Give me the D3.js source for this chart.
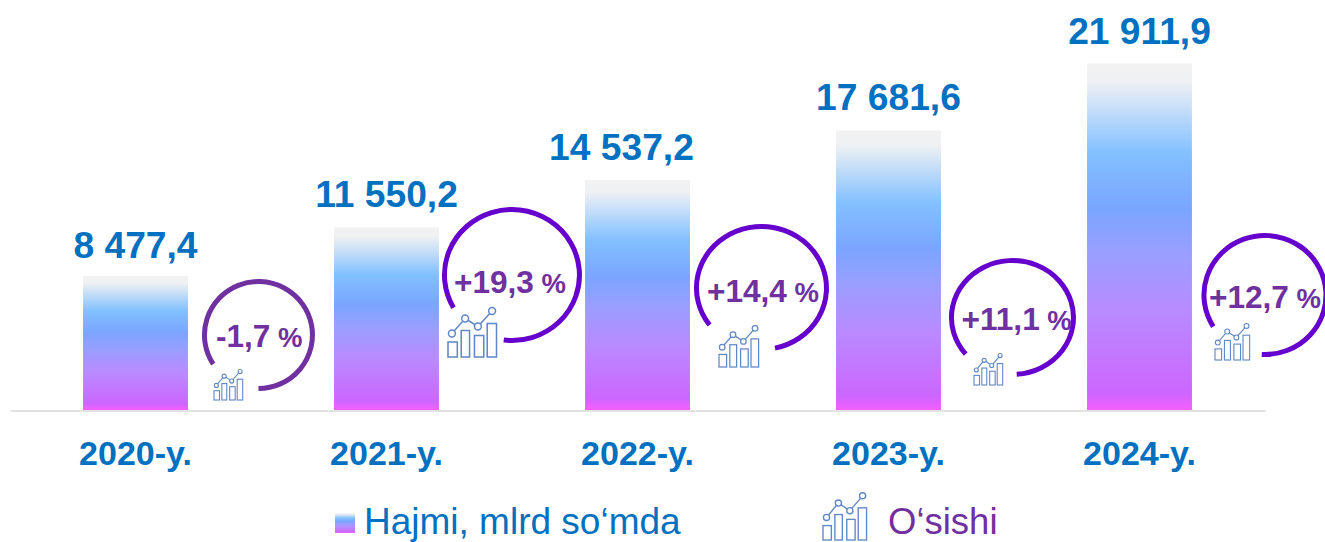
<!DOCTYPE html>
<html>
<head>
<meta charset="utf-8">
<script src="https://cdnjs.cloudflare.com/ajax/libs/d3/7.8.5/d3.min.js"></script>
<style>
  html, body { margin: 0; padding: 0; background: #fff; overflow: hidden; }
  svg { display: block; font-family: "Liberation Sans", Arial, sans-serif; }
</style>
</head>
<body>
<svg id="chart" width="1325" height="542"></svg>
<script>
// values
const years = ["2020-y.", "2021-y.", "2022-y.", "2023-y.", "2024-y."];
const volume = [8477.4, 11550.2, 14537.2, 17681.6, 21911.9];
const growth = [-1.7, 19.3, 14.4, 11.1, 12.7];
const legendLabels = ["Hajmi, mlrd so‘mda", "O‘sishi"];

const blue = "#0070c0";
const purple = "#7030a0";
const iconBlue = "#6088c6";

const svg = d3.select("#chart");
const baseline = 410;

const x = d3.scaleBand().domain(years).range([10, 1265]).paddingInner(0.582).paddingOuter(0.291);
const y = d3.scaleLinear().domain([0, 21911.9]).range([baseline, 63.5]);

const uz = d3.formatLocale({ decimal: ",", thousands: " ", grouping: [3], currency: ["", ""], minus: "-" });
const fmtValue = uz.format(",.1f");
const fmtGrowth = uz.format("+.1f");

/* bar gradient */
const grad = svg.append("defs").append("linearGradient")
  .attr("id", "barFill")
  .attr("x1", 0).attr("y1", 0).attr("x2", 0).attr("y2", 1);
[[0, "#f2f2f2"], [0.05, "#f0f1f3"], [0.26, "#82c0ff"], [0.42, "#7aa5ff"], [0.55, "#9a9eff"],
 [0.72, "#b98aff"], [0.95, "#cc66ff"], [1, "#f55fff"]].forEach(function (s) {
  grad.append("stop").attr("offset", s[0]).attr("stop-color", s[1]);
});

/* bars */
svg.append("g").selectAll("rect")
  .data(volume)
  .join("rect")
  .attr("x", function (d, i) { return x(years[i]); })
  .attr("y", function (d) { return y(d); })
  .attr("width", x.bandwidth())
  .attr("height", function (d) { return baseline - y(d); })
  .attr("fill", "url(#barFill)");

/* value labels, nudged the way they sit in the picture */
const labelNudge = [[0, -18], [0, -20], [-16, -20], [0, -20], [0, -20]];
svg.append("g").selectAll("text")
  .data(volume)
  .join("text")
  .attr("x", function (d, i) { return x(years[i]) + x.bandwidth() / 2 + labelNudge[i][0]; })
  .attr("y", function (d, i) { return y(d) + labelNudge[i][1]; })
  .attr("text-anchor", "middle")
  .attr("font-size", 37.2)
  .attr("font-weight", "bold")
  .attr("fill", blue)
  .text(function (d) { return fmtValue(d); });

/* x axis */
const xAxis = d3.axisBottom(x).tickSize(0);
const axisG = svg.append("g")
  .attr("transform", "translate(0," + (baseline + 0.5) + ")")
  .call(xAxis);
axisG.select(".domain").attr("stroke", "#d9d9d9").attr("stroke-width", 1.5);
axisG.selectAll("text")
  .attr("y", 54)
  .attr("dy", 0)
  .attr("font-family", "Liberation Sans")
  .attr("font-size", 34)
  .attr("font-weight", "bold")
  .attr("fill", blue);

/* small chart glyph, drawn in a 100x100 box */
function drawIcon(parent, left, top, w, h) {
  const sx = d3.scaleLinear().domain([0, 100]).range([left, left + w]);
  const sy = d3.scaleLinear().domain([0, 100]).range([top, top + h]);
  const sw = Math.max(1.1, w / 32);
  const g = parent.append("g").attr("fill", "none").attr("stroke", iconBlue).attr("stroke-width", sw);
  [[0, 19, 70], [27, 44, 47], [54, 73, 57], [80, 99, 33]].forEach(function (b) {
    g.append("rect")
      .attr("x", sx(b[0])).attr("y", sy(b[2]))
      .attr("width", sx(b[1]) - sx(b[0])).attr("height", sy(100) - sy(b[2]));
  });
  const pts = [[8, 53], [35, 23], [61, 39], [90, 8]];
  g.append("path")
    .attr("d", d3.line().x(function (p) { return sx(p[0]); }).y(function (p) { return sy(p[1]); })(pts));
  g.selectAll("circle")
    .data(pts)
    .join("circle")
    .attr("cx", function (p) { return sx(p[0]); })
    .attr("cy", function (p) { return sy(p[1]); })
    .attr("r", w * 0.07)
    .attr("fill", "#fff");
}

/* growth rings: dx is measured from the right edge of the bar */
const rings = [
  { dx: 70.5, cy: 335, rx: 54, ry: 53.5, from: 237, to: 180, color: "#7030a0", tx: 216, ty: 347, icon: [214, 369, 29, 31] },
  { dx: 73, cy: 275, rx: 67.5, ry: 65.5, from: 240, to: 187, color: "#6600cc", tx: 454, ty: 293, icon: [448, 307, 49, 50] },
  { dx: 71.5, cy: 288, rx: 65, ry: 61.5, from: 233, to: 168, color: "#6600cc", tx: 707, ty: 302, icon: [719, 325, 40, 42] },
  { dx: 71.5, cy: 317.5, rx: 61, ry: 57, from: 230, to: 176, color: "#6600cc", tx: 961.5, ty: 330, icon: [974, 353, 29, 32] },
  { dx: 73, cy: 295, rx: 61, ry: 59.5, from: 238, to: 183, color: "#6600cc", tx: 1209, ty: 308, icon: [1215, 323, 35, 37] }
];

const ringG = svg.append("g");
rings.forEach(function (r, i) {
  const cx = x(years[i]) + x.bandwidth() + r.dx;
  const rad = function (a) { return a * Math.PI / 180; };
  const px = function (a) { return cx + r.rx * Math.sin(rad(a)); };
  const py = function (a) { return r.cy - r.ry * Math.cos(rad(a)); };
  ringG.append("path")
    .attr("d", `M${px(r.from)},${py(r.from)}A${r.rx},${r.ry} 0 1 1 ${px(r.to)},${py(r.to)}`)
    .attr("fill", "none")
    .attr("stroke", r.color)
    .attr("stroke-width", 5);

  drawIcon(ringG, r.icon[0], r.icon[1], r.icon[2], r.icon[3]);

  const label = ringG.append("text")
    .attr("x", r.tx).attr("y", r.ty)
    .attr("font-weight", "bold")
    .attr("fill", purple)
    .attr("font-size", 31.6);
  label.append("tspan").text(growth[i] < 0 ? uz.format(".1f")(growth[i]) : fmtGrowth(growth[i]));
  label.append("tspan").attr("font-size", 27.5).text(" %");
});

/* legend */
const legend = svg.append("g");
legend.append("rect")
  .attr("x", 335).attr("y", 513).attr("width", 20).attr("height", 20)
  .attr("fill", "url(#barFill)");
legend.append("text")
  .attr("x", 364).attr("y", 534)
  .attr("font-size", 37)
  .attr("fill", blue)
  .text(legendLabels[0]);
drawIcon(legend, 823, 492, 44, 48);
legend.append("text")
  .attr("x", 888).attr("y", 534)
  .attr("font-size", 36.5)
  .attr("fill", purple)
  .text(legendLabels[1]);
</script>
</body>
</html>
